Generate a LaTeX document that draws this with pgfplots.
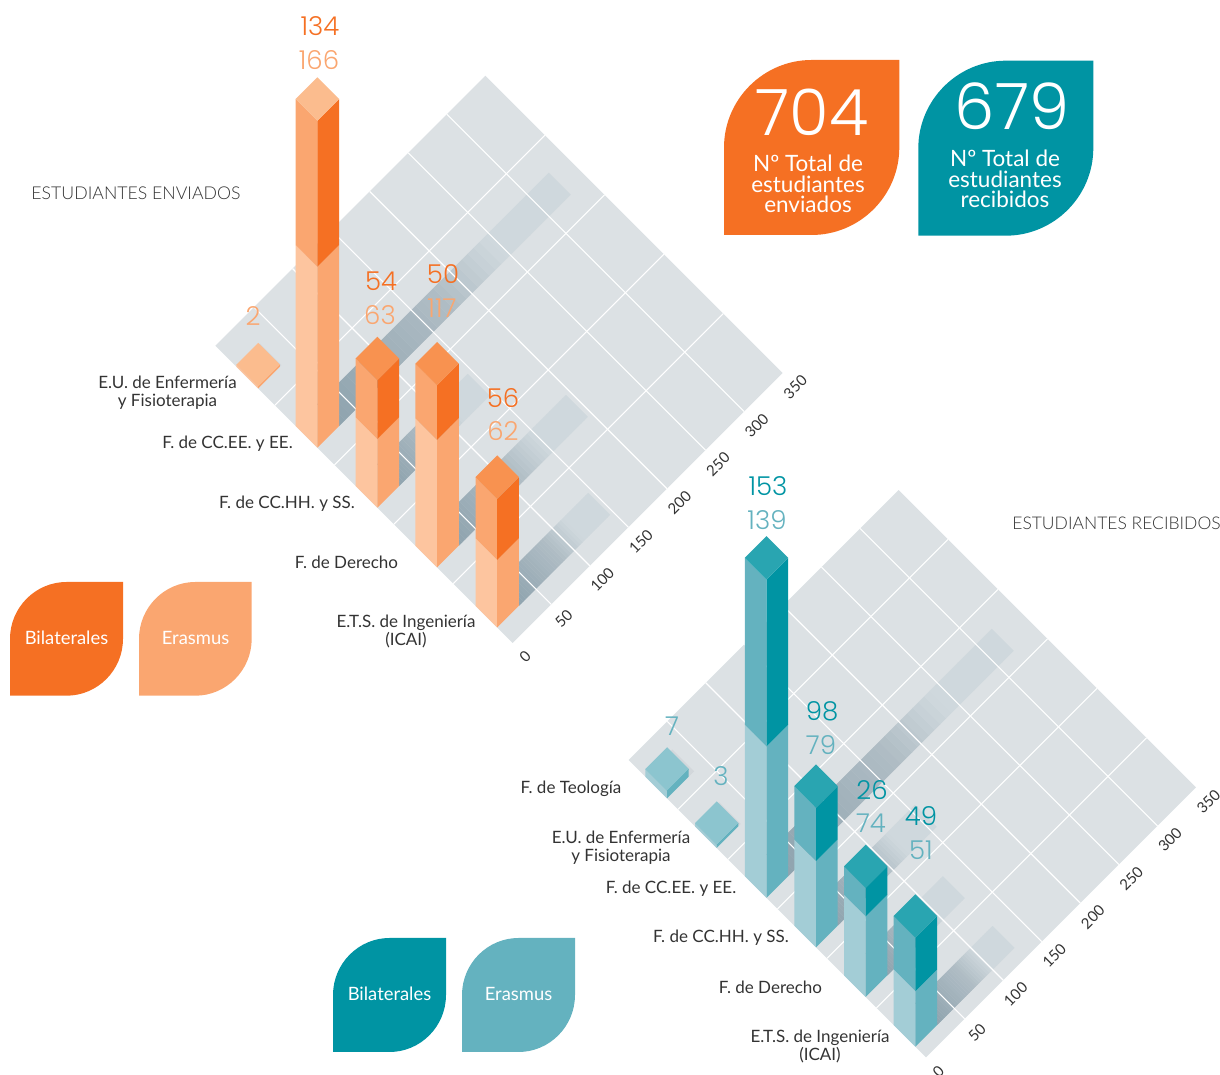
\documentclass[border=0pt]{standalone}
\usepackage{fontspec}
\setmainfont{Lato}
\newfontfamily\numfont{Poppins Light}
\newfontfamily\lightfont{Lato Light}
\usepackage{pgfplots}
\usepackage{pgfplotstable}
\pgfplotsset{compat=1.18}
\definecolor{floorc}{HTML}{DCE1E4}
\definecolor{shA}{HTML}{8EA3AE}
\definecolor{shB}{HTML}{B0BDC5}
\definecolor{shC}{HTML}{CFD8DD}
\definecolor{shS}{HTML}{D2D7DB}
\definecolor{orD}{HTML}{F57023}
\definecolor{orM}{HTML}{FAA670}
\definecolor{orL}{HTML}{FDC59F}
\definecolor{orT}{HTML}{F89250}
\definecolor{orTL}{HTML}{FBBC8E}
\definecolor{teD}{HTML}{0094A3}
\definecolor{teM}{HTML}{64B2BF}
\definecolor{teL}{HTML}{A3CDD6}
\definecolor{teT}{HTML}{29A5B1}
\definecolor{teTL}{HTML}{8CC5CF}
\definecolor{txt}{HTML}{333333}

% rows: v = position of the bar along the edge, era = Erasmus, bil = Bilaterales, lt = light top
\pgfplotstableread{
v era bil lt
254.5 2 0 1
195.3 166 134 1
135.3 63 54 0
75.6 117 50 0
15.5 62 56 0
}\sentdata
% the picture draws the CC.HH. upper segment at about 49 although its label reads 98
\pgfplotstableread{
v era bil lt
259.0 7 0 1
209.3 3 0 1
159.5 139 153 0
110.0 79 49 0
60.3 74 26 0
10.6 51 49 0
}\recvdata

\def\bu{28.15}
\def\bv{21.7}

\newcommand{\poly}[2]{\edef\temp{\noexpand\addplot3[fill=#1,draw=none,forget plot] coordinates {#2};}\temp}
\newcommand{\oneshadow}[2]{% v, total
  \pgfmathsetmacro\vb{#1+\bv}
  \ifdim #2pt<20pt
    \pgfmathsetmacro\ue{\bu+#2}
    \poly{shS}{(\bu,#1,0) (\ue,#1,0) (\ue,\vb,0) (\bu,\vb,0)}
  \else
    \pgfplotsforeachungrouped \s in {0,...,39}{%
      \pgfmathsetmacro\ua{\bu+#2*\s/40}
      \pgfmathsetmacro\ub{\bu+#2*(\s+1)/40}
      \pgfmathsetmacro\tt{(\s+0.5)/40}
      \pgfmathparse{\tt<0.5?1:0}\ifdim\pgfmathresult pt>0.5pt
        \pgfmathsetmacro\pc{100-\tt/0.5*100}\edef\cc{shA!\pc!shB}
      \else
        \pgfmathsetmacro\pc{max(0,100-(\tt-0.5)/0.22*100)}\edef\cc{shB!\pc!shC}
      \fi
      \edef\temp{\noexpand\addplot3[fill={\cc},draw={\cc},line width=0.2pt,forget plot] coordinates {(\ua,#1,0) (\ub,#1,0) (\ub,\vb,0) (\ua,\vb,0)};}\temp
    }
  \fi
}
\newcommand{\shadows}[2]{% table, rows
  \pgfplotsforeachungrouped \r in {#2}{%
    \pgfplotstablegetelem{\r}{v}\of#1\let\vv\pgfplotsretval
    \pgfplotstablegetelem{\r}{era}\of#1\let\ee\pgfplotsretval
    \pgfplotstablegetelem{\r}{bil}\of#1\let\bl\pgfplotsretval
    \pgfmathsetmacro\tot{\ee+\bl}
    \oneshadow{\vv}{\tot}
  }
}
\newcommand{\bars}[7]{% table, rows, low left, low right / high left, high right, top, light top
  \pgfplotsforeachungrouped \r in {#2}{%
    \pgfplotstablegetelem{\r}{v}\of#1\let\vv\pgfplotsretval
    \pgfplotstablegetelem{\r}{era}\of#1\let\ee\pgfplotsretval
    \pgfplotstablegetelem{\r}{bil}\of#1\let\bl\pgfplotsretval
    \pgfplotstablegetelem{\r}{lt}\of#1\let\lt\pgfplotsretval
    \pgfmathsetmacro\tot{\ee+\bl}
    \pgfmathsetmacro\vb{\vv+\bv}
    \poly{#3}{(0,\vv,0) (0,\vb,0) (0,\vb,\ee) (0,\vv,\ee)}
    \poly{#4}{(0,\vv,0) (\bu,\vv,0) (\bu,\vv,\ee) (0,\vv,\ee)}
    \poly{#4}{(0,\vv,\ee) (0,\vb,\ee) (0,\vb,\tot) (0,\vv,\tot)}
    \poly{#5}{(0,\vv,\ee) (\bu,\vv,\ee) (\bu,\vv,\tot) (0,\vv,\tot)}
    \ifnum\lt=1 \edef\tc{#7}\else\edef\tc{#6}\fi
    \poly{\tc}{(0,\vv,\tot) (\bu,\vv,\tot) (\bu,\vb,\tot) (0,\vb,\tot)}
  }
}
\newcommand{\floorgrid}[1]{%
  \poly{floorc}{(0,0,0) (350,0,0) (350,297.3,0) (0,297.3,0)}
}
\newcommand{\ugrid}{%
  \pgfplotsforeachungrouped \g in {50,100,150,200,250,300}{%
    \edef\temp{\noexpand\addplot3[white,line width=1.1pt,forget plot] coordinates {(\g,0,0) (\g,297.3,0)};}\temp
  }
}
\newcommand{\vgrid}[1]{%
  \pgfplotsforeachungrouped \g in {#1}{%
    \edef\temp{\noexpand\addplot3[white,line width=1.1pt,forget plot] coordinates {(0,\g,0) (350,\g,0)};}\temp
  }
}
\pgfplotsset{panel/.style={
  x={(0.7714pt,0.7714pt)}, y={(-1pt,1pt)}, z={(0pt,1.09pt)},
  disabledatascaling, anchor=origin, clip=false,
  xmin=0,xmax=350,ymin=0,ymax=297.3,zmin=0,zmax=320,
  axis line style={draw=none}, tick style={draw=none},
  ytick=\empty, ztick=\empty,
  xtick={0,50,100,150,200,250,300,350},
  /pgf/number format/assume math mode=true,
  xticklabel style={font=\fontsize{15}{17}\selectfont,text=txt,anchor=center,xshift=12.5pt,yshift=-14pt,rotate=45},
}}
\newcommand{\leaf}[5]{% x y w h colour
  \fill[#5] ({#1},{#2+#4}) -- ({#1},{#2+0.5*#4}) .. controls ({#1},{#2+0.225*#4}) and ({#1+0.225*#3},{#2}) .. ({#1+0.5*#3},{#2})
    -- ({#1+#3},{#2}) -- ({#1+#3},{#2+0.5*#4}) .. controls ({#1+#3},{#2+0.775*#4}) and ({#1+0.775*#3},{#2+#4}) .. ({#1+0.5*#3},{#2+#4}) -- cycle;
}
\newcommand{\lab}[3]{\node[text=txt,font=\fontsize{17}{18}\selectfont,align=center] at (#1,#2+1.7) {#3};}
\newcommand{\num}[4]{\node[text=#4,font=\numfont\fontsize{26}{28}\selectfont,inner sep=0pt] at (#1,#2) {#3};}
\begin{document}
\begin{tikzpicture}
\path[use as bounding box,clip] (0pt,0pt) rectangle (1220pt,1075pt);
\begin{axis}[panel, at={(512.7pt,432pt)}]
  \floorgrid{}
  \shadows{\sentdata}{0,1,2,3,4}
  \ugrid
  \vgrid{59.4,118.8,178.2,237.8}
  \bars{\sentdata}{0,1,2,3,4}{orL}{orM}{orD}{orT}{orTL}
\end{axis}
\begin{axis}[panel, at={(926pt,17.7pt)}]
  \floorgrid{}
  \shadows{\recvdata}{0,1,2,3,4,5}
  \ugrid
  \vgrid{49.5,99,148.5,198,248}
  \bars{\recvdata}{0,1,2,3,4,5}{teL}{teM}{teD}{teT}{teTL}
\end{axis}
\begin{scope}[x=1pt,y=-1pt,shift={(0pt,1075pt)}]
  \leaf{724}{60}{175.3}{175}{orD}
  \leaf{918.3}{60.7}{175}{175}{teD}
  \leaf{10}{582}{113}{113.7}{orD}
  \leaf{139}{582}{112.7}{113.7}{orM}
  \leaf{333}{938}{113}{114}{teD}
  \leaf{462}{938}{113}{114}{teM}
  \node[white,font=\numfont\fontsize{64}{66}\selectfont,inner sep=0pt] at (812,112) {704};
  \node[white,font=\numfont\fontsize{64}{66}\selectfont,inner sep=0pt] at (1012,106) {679};
  \node[white,font=\fontsize{22.5}{20.5}\selectfont,align=center] at (808,184) {Nº Total de\\estudiantes\\enviados};
  \node[white,font=\fontsize{22.5}{20.5}\selectfont,align=center] at (1005,179) {Nº Total de\\estudiantes\\recibidos};
  \node[white,font=\fontsize{18.4}{20}\selectfont] at (66.5,638) {Bilaterales};
  \node[white,font=\fontsize{18.4}{20}\selectfont] at (195.5,638) {Erasmus};
  \node[white,font=\fontsize{18.4}{20}\selectfont] at (389.5,994) {Bilaterales};
  \node[white,font=\fontsize{18.4}{20}\selectfont] at (518.5,994) {Erasmus};
  \node[text=txt,font=\lightfont\fontsize{17.7}{20}\selectfont] at (136,193) {ESTUDIANTES ENVIADOS};
  \node[text=txt,font=\lightfont\fontsize{17.5}{20}\selectfont,inner sep=0pt] at (1116.5,523) {ESTUDIANTES RECIBIDOS};
  \lab{167.5}{391}{E.U. de Enfermería\\y Fisioterapia}
  \lab{227.5}{442}{F. de CC.EE. y EE.}
  \lab{287}{502}{F. de CC.HH. y SS.}
  \lab{346.5}{561}{F. de Derecho}
  \lab{406}{630}{E.T.S. de Ingeniería\\(ICAI)}
  \lab{571}{787}{F. de Teología}
  \lab{621}{846}{E.U. de Enfermería\\y Fisioterapia}
  \lab{671}{887}{F. de CC.EE. y EE.}
  \lab{721}{936}{F. de CC.HH. y SS.}
  \lab{770.5}{986}{F. de Derecho}
  \lab{820}{1044.5}{E.T.S. de Ingeniería\\(ICAI)}
  \num{320}{26}{134}{orD}\num{319}{60}{166}{orM}
  \num{253}{316}{2}{orM}
  \num{381}{281}{54}{orD}\num{380}{315}{63}{orM}
  \num{443}{274}{50}{orD}\num{442}{308}{117}{orM}
  \num{503}{398}{56}{orD}\num{503}{431}{62}{orM}
  \num{768}{486}{153}{teD}\num{767}{520}{139}{teM}
  \num{672}{726}{7}{teM}\num{721}{776}{3}{teM}
  \num{822}{711}{98}{teD}\num{821}{745}{79}{teM}
  \num{872}{790}{26}{teD}\num{871}{823}{74}{teM}
  \num{921}{816}{49}{teD}\num{921}{850}{51}{teM}
\end{scope}
\end{tikzpicture}
\end{document}
